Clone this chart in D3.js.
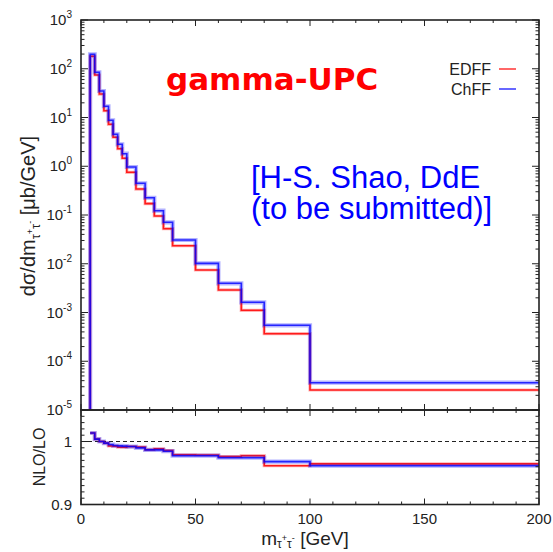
<!DOCTYPE html>
<html>
<head>
<meta charset="utf-8">
<script src="https://cdn.jsdelivr.net/npm/d3@7"></script>
<style>
  html, body { margin: 0; padding: 0; background: #fff; }
  svg { display: block; }
  text { font-family: "Liberation Sans", Arial, sans-serif; fill: #222; }
</style>
</head>
<body>
<svg id="chart" width="553" height="552"></svg>
<script>
// ---------------- data ----------------
const binEdges = [4, 6, 8, 10, 12, 14, 16, 18, 20, 24, 28, 32, 36, 40, 50, 60, 70, 80, 100, 200];
const edffValues = [180, 74.5, 30.3, 13.8, 7.26, 3.93, 2.29, 1.46, 0.752, 0.341, 0.171, 0.0953, 0.0524, 0.0234, 0.00745, 0.0029, 0.00111, 3.67e-4, 2.57e-5];
const chffValues = [198, 84.5, 35, 17, 8.77, 4.52, 2.82, 1.81, 0.966, 0.447, 0.226, 0.1225, 0.0708, 0.0307, 0.0102, 0.00397, 0.00162, 5.46e-4, 3.63e-5];
const edffRatio = [1.0135, 1.0038, 1.0, 0.9974, 0.9931, 0.9926, 0.991, 0.991, 0.992, 0.991, 0.987, 0.9883, 0.9856, 0.979, 0.9786, 0.976, 0.9775, 0.9615, 0.9645];
const chffRatio = [1.0135, 1.0038, 1.0, 0.9974, 0.9952, 0.9936, 0.9931, 0.9926, 0.992, 0.9899, 0.9867, 0.9867, 0.9846, 0.9775, 0.9775, 0.9743, 0.9743, 0.968, 0.9615];
const seriesNames = ["EDFF", "ChFF"];
const seriesColors = ["#ff0000", "#0000ff"];
const yTickExps = [-5, -4, -3, -2, -1, 0, 1, 2, 3];
const xTickValues = [0, 50, 100, 150, 200];
const ratioTickValues = [0.9, 1];
const titleText = "gamma-UPC";
const noteLines = ["[H-S. Shao, DdE", "(to be submitted)]"];

// ---------------- layout ----------------
const L = 81, R = 539, T = 20, MB = 410, RB = 504.5;
const svg = d3.select("#chart");

const x = d3.scaleLinear().domain([0, 200]).range([L, R]);
const y = d3.scaleLog().domain([1e-5, 1e3]).range([MB, T]);
const yr = d3.scaleLinear().domain([0.9, 1.05]).range([RB, MB]);

// ---------------- histogram paths ----------------
function stepPoints(vals, fromBottom, yScale) {
  const pts = [];
  if (fromBottom) pts.push([binEdges[0], yScale.domain()[0]]);
  vals.forEach((v, i) => {
    pts.push([binEdges[i], v]);
    pts.push([binEdges[i + 1], v]);
  });
  return pts;
}
function drawHist(vals, color, yScale, fromBottom, isBlue, g) {
  const line = d3.line().x(d => x(d[0])).y(d => yScale(d[1]));
  const pts = stepPoints(vals, fromBottom, yScale);
  g.append("path").attr("d", line(pts)).attr("fill", "none")
    .attr("stroke", color).attr("stroke-opacity", 0.3)
    .attr("stroke-width", isBlue ? 4.2 : 3.2).attr("stroke-linejoin", "miter");
  g.append("path").attr("d", line(pts)).attr("fill", "none")
    .attr("stroke", color).attr("stroke-opacity", isBlue ? 0.8 : 0.85)
    .attr("stroke-width", 1.6).attr("stroke-linejoin", "miter");
}

const gMain = svg.append("g");
drawHist(edffValues, seriesColors[0], y, true, false, gMain);
drawHist(chffValues, seriesColors[1], y, true, true, gMain);

const gRatio = svg.append("g");
gRatio.append("line").attr("x1", L).attr("x2", R).attr("y1", yr(1)).attr("y2", yr(1))
  .attr("stroke", "#222").attr("stroke-width", 1.1).attr("stroke-dasharray", "4,3");
drawHist(edffRatio, seriesColors[0], yr, false, false, gRatio);
drawHist(chffRatio, seriesColors[1], yr, false, true, gRatio);

// ---------------- frames & ticks ----------------
const axG = svg.append("g").attr("stroke", "#222").attr("fill", "none");
axG.append("rect").attr("x", L).attr("y", T).attr("width", R - L).attr("height", MB - T).attr("stroke-width", 1.6);
axG.append("rect").attr("x", L).attr("y", MB).attr("width", R - L).attr("height", RB - MB).attr("stroke-width", 1.6);

function tick(x1, y1, x2, y2) {
  axG.append("line").attr("x1", x1).attr("y1", y1).attr("x2", x2).attr("y2", y2).attr("stroke-width", 1);
}
// x ticks (every 10, major every 50)
d3.range(0, 201, 10).forEach(v => {
  const len = v % 50 === 0 ? 6 : 3;
  const px = x(v);
  tick(px, MB, px, MB - len);   // main bottom
  tick(px, T, px, T + len);     // main top
  tick(px, MB, px, MB + len);   // ratio top
  tick(px, RB, px, RB - len);   // ratio bottom
});
// log y ticks
yTickExps.forEach(e => {
  const py = y(Math.pow(10, e));
  tick(L, py, L + 7, py); tick(R, py, R - 7, py);
  if (e < 3) {
    for (let m = 2; m <= 9; m++) {
      const pm = y(m * Math.pow(10, e));
      tick(L, pm, L + 3.5, pm); tick(R, pm, R - 3.5, pm);
    }
  }
});
// ratio y ticks
d3.range(0, 16).forEach(i => {
  const v = 0.9 + i * 0.01;
  const py = yr(v);
  const major = Math.abs(v - 0.9) < 1e-9 || Math.abs(v - 1) < 1e-9;
  const len = major ? 7 : 3.5;
  tick(L, py, L + len, py); tick(R, py, R - len, py);
});

// ---------------- tick labels ----------------
const lab = svg.append("g").attr("font-size", 15);
yTickExps.forEach(e => {
  const t = lab.append("text").attr("x", 72).attr("y", y(Math.pow(10, e)) + 5).attr("text-anchor", "end");
  t.append("tspan").text("10");
  t.append("tspan").attr("font-size", 10).attr("dy", -7).text(String(e));
});
ratioTickValues.forEach(v => {
  lab.append("text").attr("x", 72).attr("y", yr(v) + 5).attr("text-anchor", "end")
    .text(v === 1 ? "1" : String(v));
});
xTickValues.forEach(v => {
  lab.append("text").attr("x", x(v)).attr("y", 524).attr("text-anchor", "middle").text(String(v));
});

// ---------------- axis titles ----------------
function subTau(t, fs, down) {
  t.append("tspan").attr("font-size", fs).attr("dy", down).text("τ");
  t.append("tspan").attr("font-size", 9).attr("dy", -7).text("+");
  t.append("tspan").attr("font-size", fs).attr("dy", 7).text("τ");
  t.append("tspan").attr("font-size", 9).attr("dy", -7).text("-");
}
const yl = svg.append("text").attr("font-size", 20).attr("text-anchor", "middle")
  .attr("transform", "translate(35,216) rotate(-90)");
yl.append("tspan").text("dσ/dm");
subTau(yl, 13, 5);
yl.append("tspan").attr("dy", 2).text(" [μb/GeV]");

svg.append("text").attr("font-size", 16).attr("text-anchor", "middle")
  .attr("transform", "translate(45,457) rotate(-90)").text("NLO/LO");

const xl = svg.append("text").attr("font-size", 19).attr("text-anchor", "middle")
  .attr("x", 305).attr("y", 545);
xl.append("tspan").text("m");
subTau(xl, 12, 3);
xl.append("tspan").attr("dy", 4).text(" [GeV]");

// ---------------- legend ----------------
seriesNames.forEach((n, i) => {
  const ly = 69 + i * 20;
  svg.append("text").attr("x", 491).attr("y", ly + 5.5).attr("text-anchor", "end")
    .attr("font-size", 16).text(n);
  svg.append("line").attr("x1", 499).attr("x2", 516).attr("y1", ly).attr("y2", ly)
    .attr("stroke", seriesColors[i]).attr("stroke-opacity", 0.75).attr("stroke-width", 1.6);
});

// ---------------- annotations ----------------
svg.append("text").attr("x", 166).attr("y", 90).attr("font-size", 31)
  .style("font-family", "'DejaVu Sans', sans-serif").attr("font-weight", "bold")
  .style("fill", "#ff0000").text(titleText);
noteLines.forEach((s, i) => {
  svg.append("text").attr("x", 251).attr("y", 188 + i * 31).attr("font-size", 31)
    .style("fill", "#0000ff").text(s);
});
</script>
</body>
</html>
